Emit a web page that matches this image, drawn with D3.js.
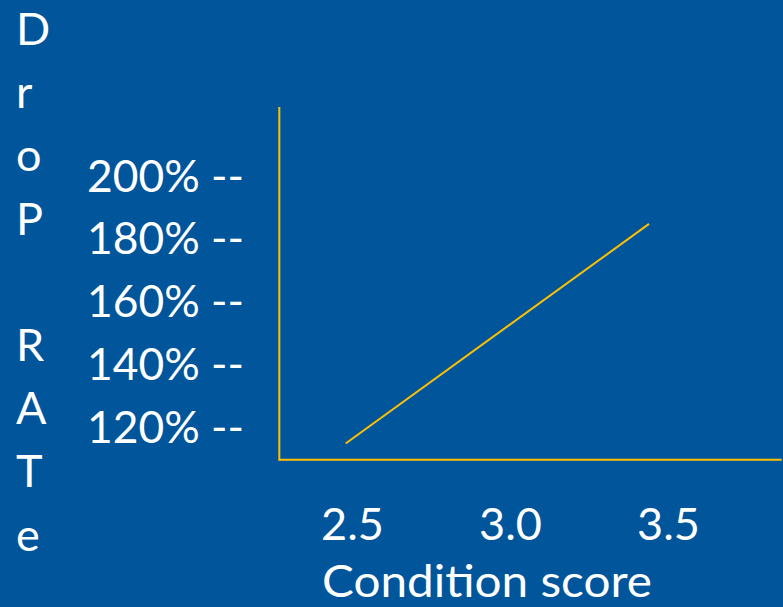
<!DOCTYPE html>
<html>
<head>
<meta charset="utf-8">
<script src="https://cdn.jsdelivr.net/npm/d3@7"></script>
<style>
  html, body { margin: 0; padding: 0; background: #00559B; }
  svg { display: block; }
  text { font-family: Lato, "Open Sans", sans-serif; fill: #ffffff; }
</style>
</head>
<body>
<div id="chart"></div>
<script>
// Drop rate against condition score
const scoreTicks = [2.5, 3.0, 3.5];
const rateTicks = [120, 140, 160, 180, 200];
const trendScore = [2.48, 3.44];
const trendRate = [116, 186];
const axisScoreExtent = [2.27, 3.86];
const axisRateExtent = [110.8, 223.3];
const yTitleLetters = ["D", "r", "o", "P", "", "R", "A", "T", "e"];
const xTitle = "Condition score";

const W = 783, H = 607;
const gold = "#FFC000";
const fontSize = 45;

const svg = d3.select("#chart").append("svg")
  .attr("width", W).attr("height", H);

svg.append("rect").attr("width", W).attr("height", H).attr("fill", "#00559B");

const x = d3.scaleLinear().domain([2.5, 3.5]).range([352, 668]);
const y = d3.scaleLinear().domain([120, 200]).range([431, 180]);

// axis frame
svg.append("line")
  .attr("x1", x(axisScoreExtent[0])).attr("x2", x(axisScoreExtent[0]))
  .attr("y1", y(axisRateExtent[1])).attr("y2", y(axisRateExtent[0]) + 1)
  .attr("stroke", gold).attr("stroke-width", 2);
svg.append("line")
  .attr("x1", x(axisScoreExtent[0])).attr("x2", x(axisScoreExtent[1]))
  .attr("y1", y(axisRateExtent[0])).attr("y2", y(axisRateExtent[0]))
  .attr("stroke", gold).attr("stroke-width", 2);

// trend line
const pts = trendScore.map((s, i) => [x(s), y(trendRate[i])]);
svg.append("path")
  .attr("d", d3.line()(pts))
  .attr("fill", "none")
  .attr("stroke", gold)
  .attr("stroke-width", 2);

// y tick labels, written as "NNN% --"
const yAxis = d3.axisLeft(y)
  .tickValues(rateTicks)
  .tickSize(0)
  .tickPadding(0)
  .tickFormat(d => d + "% --");
const gy = svg.append("g").attr("transform", "translate(244,0)").call(yAxis);
gy.select(".domain").remove();
gy.selectAll("text")
  .attr("font-size", fontSize)
  .attr("font-family", "Lato, 'Open Sans', sans-serif")
  .attr("fill", "#fff")
  .attr("dy", null)
  .attr("y", 11)
  .attr("textLength", 157)
  .attr("lengthAdjust", "spacingAndGlyphs");

// x tick labels
const xAxis = d3.axisBottom(x)
  .tickValues(scoreTicks)
  .tickSize(0)
  .tickPadding(0)
  .tickFormat(d3.format(".1f"));
const gx = svg.append("g").attr("transform", "translate(0,540)").call(xAxis);
gx.select(".domain").remove();
gx.selectAll("text")
  .attr("font-size", fontSize)
  .attr("font-family", "Lato, 'Open Sans', sans-serif")
  .attr("fill", "#fff")
  .attr("dy", null)
  .attr("y", 0);

// x title
svg.append("text")
  .attr("x", 322).attr("y", 597)
  .attr("font-size", fontSize)
  .attr("textLength", 330)
  .attr("lengthAdjust", "spacingAndGlyphs")
  .text(xTitle);

// stacked y title letters
svg.append("g").selectAll("text")
  .data(yTitleLetters)
  .join("text")
  .attr("x", 16)
  .attr("y", (d, i) => 45 + i * 63.2)
  .attr("font-size", fontSize)
  .text(d => d);
</script>
</body>
</html>
